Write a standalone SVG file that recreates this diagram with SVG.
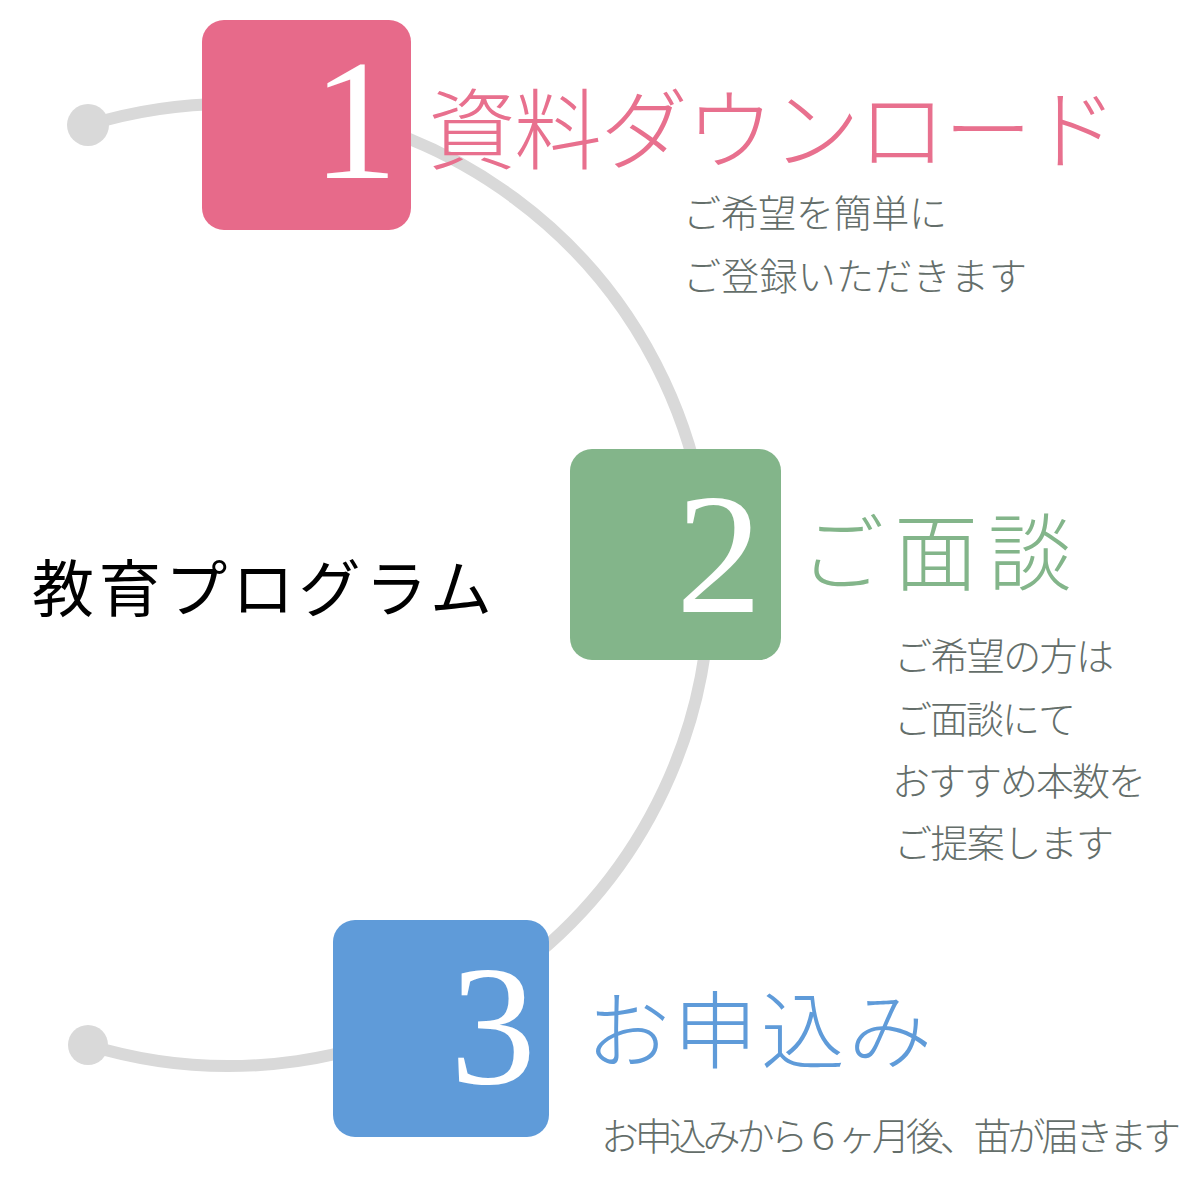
<svg xmlns="http://www.w3.org/2000/svg" width="1200" height="1200" viewBox="0 0 1200 1200">
<style>
.num{font-family:"Liberation Serif","DejaVu Serif",serif;font-size:172px;fill:#ffffff;text-anchor:end}
.ttl{font-family:"Noto Sans CJK JP",sans-serif;font-weight:300}
.sub{font-family:"Noto Sans CJK JP",sans-serif;font-weight:300;fill:#646E6A;font-size:38px}
.main{font-family:"Noto Sans CJK JP",sans-serif;font-size:62px;fill:#000000}
.dot{fill:#D9D9D9}
</style>
<rect width="1200" height="1200" fill="#ffffff"/>
<g id="connectors">
<path d="M 88 125 A 481 481 0 1 1 88 1045" fill="none" stroke="#D9D9D9" stroke-width="12"/>
<circle class="dot" cx="88" cy="125" r="21"/>
<circle class="dot" cx="88" cy="1045" r="20"/>
</g>
<g id="node-title">
<text class="main" x="32" y="612" textLength="460" lengthAdjust="spacing">教育プログラム</text>
</g>
<g id="node-1">
<rect x="202" y="20" width="209" height="210" rx="22" fill="#E76A8A"/>
<text class="num" x="398" y="178">1</text>
<text class="ttl" x="428" y="162" font-size="88" fill="#E8708E" textLength="690" lengthAdjust="spacing">資料ダウンロード</text>
<text class="sub" x="683" y="227" textLength="264" lengthAdjust="spacing">ご希望を簡単に</text>
<text class="sub" x="683" y="290" textLength="344" lengthAdjust="spacing">ご登録いただきます</text>
</g>
<g id="node-2">
<rect x="570" y="449" width="211" height="211" rx="22" fill="#83B58A"/>
<text class="num" x="762" y="612">2</text>
<text class="ttl" x="800" y="584" font-size="84" fill="#83B58A" textLength="272" lengthAdjust="spacing">ご面談</text>
<text class="sub" x="894" y="670" textLength="220" lengthAdjust="spacing">ご希望の方は</text>
<text class="sub" x="894" y="733" textLength="182" lengthAdjust="spacing">ご面談にて</text>
<text class="sub" x="892" y="795" textLength="254" lengthAdjust="spacing">おすすめ本数を</text>
<text class="sub" x="894" y="857" textLength="220" lengthAdjust="spacing">ご提案します</text>
</g>
<g id="node-3">
<rect x="333" y="920" width="216" height="217" rx="22" fill="#5F9BD9"/>
<text class="num" x="536" y="1083">3</text>
<text class="ttl" x="586" y="1062" font-size="84" fill="#5F9BD9" textLength="346" lengthAdjust="spacing">お申込み</text>
<text class="sub" x="601" y="1150" font-size="34" textLength="580" lengthAdjust="spacing">お申込みから６ヶ月後、苗が届きます</text>
</g>
</svg>
